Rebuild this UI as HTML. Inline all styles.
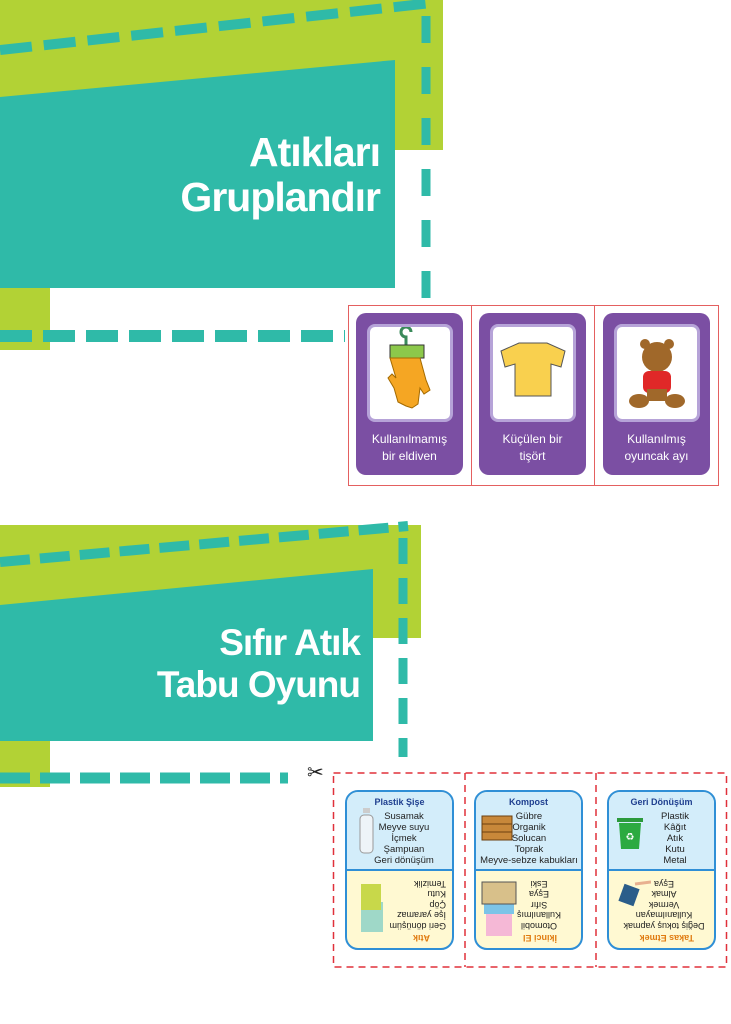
<!DOCTYPE html>
<html><head><meta charset="utf-8"><style>
body{margin:0;width:731px;height:1024px;background:#fff;position:relative;overflow:hidden;font-family:"Liberation Sans","DejaVu Sans",sans-serif}
.abs{position:absolute}
.pc{position:absolute;width:107px;height:162px;background:#7b4fa3;border-radius:10px;top:313px}
.pc .img{position:absolute;left:11px;top:11px;width:80px;height:92px;background:#fff;border:3px solid #b6a3d8;border-radius:8px}
.pc .t{position:absolute;left:0;right:0;top:118px;text-align:center;color:#fff;font-size:12px;line-height:17px}
.bc{position:absolute;width:105px;height:156px;top:790px;border:2px solid #2f8fd6;border-radius:13px;overflow:hidden;background:#fff9d2}
.bc .top{position:absolute;left:0;right:0;top:0;height:77px;background:#d3edfa;border-bottom:2px solid #2f8fd6}
.bc .tt{text-align:center;font-size:9px;color:#1f3f8f;font-weight:bold;margin-top:5px}
.bc .w{text-align:right;font-size:9.5px;line-height:11px;color:#222;position:absolute;top:19px}
.bc .bot{position:absolute;left:0;right:0;bottom:0;height:77px;transform:rotate(180deg)}
.bc .bot .tt{color:#e07b10}
.bc .bot .w{top:17px;font-size:9px;line-height:10.5px}
</style></head><body>
<svg class="abs" style="left:0;top:0" width="731" height="1024">
<polygon points="0,0 443,0 443,150 50,150 50,350 0,350" fill="#b2d235"/>
<polygon points="0,97 395,60 395,288 0,288" fill="#2fbaa8"/>
<line x1="0" y1="50" x2="432" y2="3" stroke="#2fbaa8" stroke-width="10" stroke-dasharray="32,12"/>
<line x1="426" y1="16" x2="426" y2="300" stroke="#2fbaa8" stroke-width="9" stroke-dasharray="27,24"/>
<line x1="0" y1="336" x2="345" y2="336" stroke="#2fbaa8" stroke-width="12" stroke-dasharray="32,11"/>
<polygon points="0,525 421,525 421,638 50,638 50,787 0,787" fill="#b2d235"/>
<polygon points="0,605 373,569 373,741 0,741" fill="#2fbaa8"/>
<line x1="0" y1="562" x2="408" y2="526" stroke="#2fbaa8" stroke-width="10" stroke-dasharray="30,10"/>
<line x1="403" y1="538" x2="403" y2="757" stroke="#2fbaa8" stroke-width="9" stroke-dasharray="26,14"/>
<line x1="0" y1="778" x2="288" y2="778" stroke="#2fbaa8" stroke-width="11" stroke-dasharray="30,10"/>
<rect x="348.5" y="305.5" width="370" height="180" fill="none" stroke="#e46060" stroke-width="1"/>
<line x1="471.5" y1="305" x2="471.5" y2="486" stroke="#e46060"/>
<line x1="594.5" y1="305" x2="594.5" y2="486" stroke="#e46060"/>
<rect x="333.5" y="773" width="393" height="194" fill="none" stroke="#e0303a" stroke-width="1.5" stroke-dasharray="7,5"/>
<line x1="465" y1="773" x2="465" y2="967" stroke="#e0303a" stroke-width="1.5" stroke-dasharray="7,5"/>
<line x1="596" y1="773" x2="596" y2="967" stroke="#e0303a" stroke-width="1.5" stroke-dasharray="7,5"/>
</svg>
<div class="abs" style="right:351px;top:130px;color:#fff;font-weight:bold;font-size:41px;line-height:45px;text-align:right;letter-spacing:-1px">Atıkları<br>Gruplandır</div>
<div class="abs" style="right:371px;top:622px;color:#fff;font-weight:bold;font-size:37px;line-height:42px;text-align:right;letter-spacing:-1px">Sıfır Atık<br>Tabu Oyunu</div>
<div class="abs" style="left:307px;top:760px;font-size:20px;color:#222">✂</div>

<div class="pc" style="left:356px"><div class="img">
<svg width="80" height="92"><path d="M36 18 v-8 a5 5 0 1 1 5 -5" fill="none" stroke="#3a8a5a" stroke-width="3"/><rect x="20" y="18" width="34" height="13" fill="#8cc84b" stroke="#333"/><path d="M20 31 h30 l6 22 l4 10 l-6 4 l-4 -6 l-2 16 l-6 4 l-6 -2 l-4 -2 l-4 -2 l-4 -14 l-6 -10 l4 -4 l4 4 z" fill="#f5a623" stroke="#a36a00"/></svg></div><div class="t">Kullanılmamış<br>bir eldiven</div></div>
<div class="pc" style="left:479px"><div class="img">
<svg width="80" height="92"><path d="M8 24 l18 -8 h28 l18 8 l-4 16 l-10 -3 v32 h-36 v-32 l-10 3 z" fill="#f9d04e" stroke="#555"/></svg></div><div class="t">Küçülen bir<br>tişört</div></div>
<div class="pc" style="left:603px"><div class="img">
<svg width="80" height="92"><circle cx="40" cy="30" r="15" fill="#a0682a"/><circle cx="28" cy="17" r="5" fill="#a0682a"/><circle cx="52" cy="17" r="5" fill="#a0682a"/><rect x="26" y="44" width="28" height="22" rx="6" fill="#e02828"/><ellipse cx="22" cy="74" rx="10" ry="7" fill="#a0682a"/><ellipse cx="58" cy="74" rx="10" ry="7" fill="#a0682a"/><rect x="30" y="62" width="20" height="12" fill="#a0682a"/></svg></div><div class="t">Kullanılmış<br>oyuncak ayı</div></div>

<div class="bc" style="left:345px"><div class="top"><div class="tt">Plastik Şişe</div><div class="w" style="right:13px;text-align:center;width:70px">Susamak<br>Meyve suyu<br>İçmek<br>Şampuan<br>Geri dönüşüm</div>
<svg class="abs" style="left:12px;top:16px" width="16" height="46"><rect x="4" y="0" width="7" height="5" fill="#ccc"/><rect x="1" y="7" width="13" height="38" rx="4" fill="#eef4f8" stroke="#999"/></svg></div>
<div class="bot"><div class="tt" style="text-align:left;padding-left:22px">Atık</div><div class="w" style="left:6px;text-align:left">Geri dönüşüm<br>İşe yaramaz<br>Çöp<br>Kutu<br>Temizlik</div>
<svg class="abs" style="right:6px;top:8px" width="36" height="60"><rect x="6" y="8" width="22" height="30" fill="#9fd8c8"/><rect x="8" y="30" width="20" height="26" fill="#c8d84a"/></svg></div></div>

<div class="bc" style="left:474px"><div class="top"><div class="tt">Kompost</div><div class="w" style="right:4px;text-align:center;width:100px;left:3px">Gübre<br>Organik<br>Solucan<br>Toprak<br>Meyve-sebze kabukları</div>
<svg class="abs" style="left:5px;top:20px" width="32" height="30"><rect x="1" y="4" width="30" height="24" fill="#c8883a" stroke="#6b4010"/><line x1="1" y1="12" x2="31" y2="12" stroke="#6b4010"/><line x1="1" y1="20" x2="31" y2="20" stroke="#6b4010"/></svg></div>
<div class="bot"><div class="tt" style="text-align:left;padding-left:24px">İkinci El</div><div class="w" style="left:20px;text-align:center">Otomobil<br>Kullanılmış<br>Sıfır<br>Eşya<br>Eski</div>
<svg class="abs" style="right:4px;top:8px" width="38" height="62"><rect x="6" y="4" width="26" height="26" fill="#f5b8d6"/><rect x="4" y="26" width="30" height="12" fill="#7cc4e8"/><rect x="2" y="36" width="34" height="22" fill="#d8c08a" stroke="#555"/></svg></div></div>

<div class="bc" style="left:607px"><div class="top"><div class="tt">Geri Dönüşüm</div><div class="w" style="left:36px;text-align:center;width:60px">Plastik<br>Kâğıt<br>Atık<br>Kutu<br>Metal</div>
<svg class="abs" style="left:8px;top:26px" width="26" height="32"><rect x="0" y="0" width="26" height="4" fill="#2c9a3c"/><path d="M2 5 h22 l-2 26 h-18z" fill="#2caa40"/><text x="13" y="22" font-size="10" fill="#fff" text-anchor="middle">♻</text></svg></div>
<div class="bot"><div class="tt" style="text-align:left;padding-left:20px">Takas Etmek</div><div class="w" style="left:4px;text-align:center;width:92px;white-space:nowrap">Değiş tokuş yapmak<br>Kullanılmayan<br>Vermek<br>Almak<br>Eşya</div>
<svg class="abs" style="right:2px;top:40px" width="40" height="32"><rect x="14" y="4" width="16" height="18" fill="#2b5d8a" transform="rotate(20 22 13)"/><line x1="0" y1="26" x2="16" y2="24" stroke="#e8b090" stroke-width="3"/></svg></div></div>
</body></html>
